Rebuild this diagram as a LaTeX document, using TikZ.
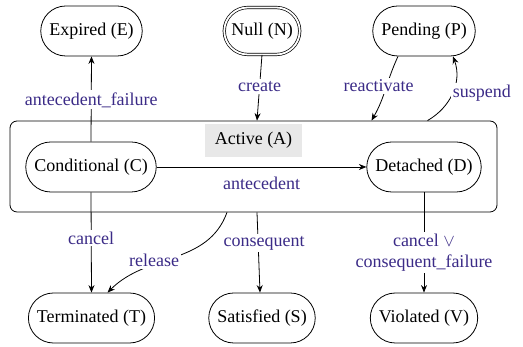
\documentclass[tikz,border=0pt]{standalone}
\usepackage{fontspec}
\setmainfont{Liberation Serif}
\usetikzlibrary{arrows.meta}
\definecolor{lblblue}{RGB}{59,43,135}
\definecolor{activegray}{RGB}{232,232,232}
\begin{document}
\begin{tikzpicture}[x=1pt,y=1pt,
  txt/.style={font=\fontsize{18}{21}\selectfont},
  state/.style={txt, draw, line width=0.8pt, rounded corners=25pt,
    minimum height=50pt, inner xsep=8.5pt, inner ysep=0pt},
  initstate/.style={txt, draw, line width=0.7pt, double, double distance=1.8pt,
    rounded corners=23.5pt, minimum height=47pt, inner xsep=7pt, inner ysep=0pt},
  arr/.style={-{Stealth[length=7.5pt,width=6pt]}, line width=0.8pt},
  lbl/.style={txt, text=lblblue, fill=white, inner sep=2pt},
  lblplain/.style={txt, text=lblblue, inner sep=2pt},
]
\useasboundingbox (0,0) rectangle (523,347);

% composite state and its caption
\node[draw, line width=0.8pt, rounded corners=7pt, minimum width=487pt,
  minimum height=91pt, inner sep=0pt] (A) at (253.5,180.5) {};
\node[txt, fill=activegray, minimum width=97pt, minimum height=33pt,
  inner sep=0pt] (Alabel) at (253.5,206.5) {Active (A)};

% states
\node[state] (E) at (91.5,316) {Expired (E)};
\node[initstate] (N) at (262,316) {Null (N)};
\node[state] (P) at (424,316) {Pending (P)};
\node[state] (C) at (91,180) {Conditional (C)};
\node[state] (D) at (424,180) {Detached (D)};
\node[state] (T) at (91.5,29) {Terminated (T)};
\node[state] (S) at (262,29) {Satisfied (S)};
\node[state] (V) at (424,29) {Violated (V)};

% transitions
\draw[arr] (C.north) -- node[lbl, pos=0.49] {antecedent\_failure} (E.south);
\draw[arr] (N.south) -- node[lbl, pos=0.48] {create} ([xshift=3.5pt]A.north);
\draw[arr] ([xshift=-26pt]P.south) to[out=-115,in=60]
  node[lbl, pos=0.45, xshift=-8pt] {reactivate} ([xshift=118pt]A.north);
\draw[arr] ([xshift=174pt]A.north) to[out=30,in=-70]
  node[lbl, pos=0.5, anchor=west, xshift=-2pt] {suspend} ([xshift=29pt]P.south);
\draw[arr] (C.east) -- node[lblplain, midway, yshift=-16pt] {antecedent} (D.west);
\draw[arr] (C.south) -- node[lbl, pos=0.455] {cancel} (T.north);
\draw[arr] ([xshift=-26.5pt]A.south) to[out=-110,in=45]
  node[lbl, pos=0.6, xshift=-7pt, yshift=2pt] {release} ([xshift=16pt]T.north);
\draw[arr] ([xshift=3.5pt]A.south) --
  node[lbl, pos=0.38, xshift=6pt] {consequent} ([xshift=-2pt]S.north);
\draw[arr] (D.south) -- node[lbl, pos=0.6, align=center]
  {cancel $\vee$\\consequent\_failure} (V.north);
\end{tikzpicture}
\end{document}
